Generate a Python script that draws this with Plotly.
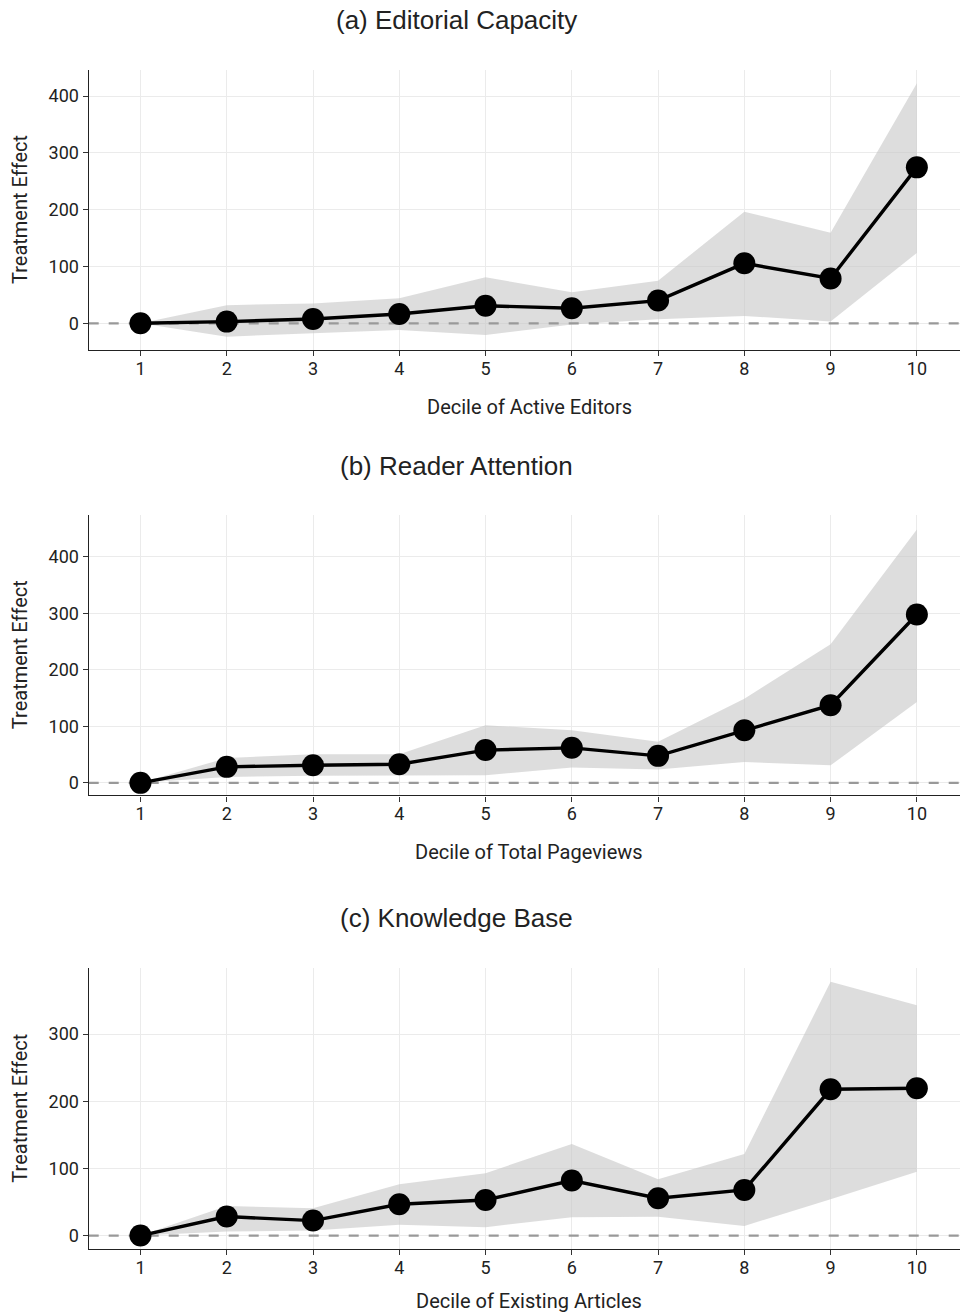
import plotly.graph_objects as go

# Deciles shared by all three panels
deciles = [1, 2, 3, 4, 5, 6, 7, 8, 9, 10]

# (a) Editorial Capacity
effect_a = [0, 3, 7.6, 16.4, 31, 26.4, 40, 105.6, 79, 274.6]
upper_a = [0, 32, 35, 44, 81, 54.6, 75, 196.5, 159.5, 422.5]
lower_a = [0, -23.5, -17.6, -11.8, -20.6, -2, 7, 13, 3, 124]

# (b) Reader Attention
effect_b = [0, 28.3, 31.3, 33, 58, 62, 47.8, 93, 137.5, 298]
upper_b = [0, 44, 50.8, 50.8, 102, 93, 72.6, 149, 245.5, 448.5]
lower_b = [0, 10.6, 12.4, 12.4, 13.6, 27, 23.7, 37, 31, 143]

# (c) Knowledge Base
effect_c = [0, 28.3, 22.3, 46.7, 53, 82, 55.6, 68, 217.8, 219.3]
upper_c = [0, 44, 40.8, 76.5, 92.8, 136.5, 84, 121.6, 378, 343]
lower_c = [0, 6, 7.4, 16, 12.5, 27.4, 28, 14.4, 54, 95]

panel_titles = ["(a) Editorial Capacity", "(b) Reader Attention", "(c) Knowledge Base"]
x_titles = ["Decile of Active Editors", "Decile of Total Pageviews", "Decile of Existing Articles"]
y_title = "Treatment Effect"

W, H = 960, 1315

panels = [
    dict(eff=effect_a, up=upper_a, lo=lower_a, top=70, bottom=350,
         yrange=[-47, 446], yticks=[0, 100, 200, 300, 400], title_y=20, xt_y=407),
    dict(eff=effect_b, up=upper_b, lo=lower_b, top=515, bottom=795.3,
         yrange=[-22, 474], yticks=[0, 100, 200, 300, 400], title_y=466, xt_y=852),
    dict(eff=effect_c, up=upper_c, lo=lower_c, top=968.3, bottom=1249,
         yrange=[-20, 398], yticks=[0, 100, 200, 300], title_y=918, xt_y=1301),
]

x_left = 88.7
fig = go.Figure()
annotations = []

tick_font = dict(family="Roboto, sans-serif", size=18, color="#222222")
lab_font = dict(family="Roboto, sans-serif", size=20, color="#222222")
title_font = dict(family="Liberation Sans, Arial, sans-serif", size=26, color="#222222")

for i, p in enumerate(panels):
    n = "" if i == 0 else str(i + 1)
    xa, ya = "x" + n, "y" + n
    # confidence band
    fig.add_trace(go.Scatter(x=deciles, y=p["lo"], xaxis=xa, yaxis=ya, mode="lines",
                             line=dict(width=0), hoverinfo="skip", showlegend=False))
    fig.add_trace(go.Scatter(x=deciles, y=p["up"], xaxis=xa, yaxis=ya, mode="lines",
                             line=dict(width=0), fill="tonexty",
                             fillcolor="rgba(200,200,200,0.62)", hoverinfo="skip",
                             showlegend=False))
    # zero reference line
    fig.add_trace(go.Scatter(x=[0.4, 10.5], y=[0, 0], xaxis=xa, yaxis=ya, mode="lines",
                             line=dict(color="#999999", width=2.2, dash="10px,10px"),
                             hoverinfo="skip", showlegend=False))
    # point estimates
    fig.add_trace(go.Scatter(x=deciles, y=p["eff"], xaxis=xa, yaxis=ya, mode="lines+markers",
                             line=dict(color="black", width=3.4),
                             marker=dict(color="black", size=22),
                             showlegend=False))

    dom = [1 - p["bottom"] / H, 1 - p["top"] / H]
    axis_common = dict(showline=True, linecolor="#222222", linewidth=1.4,
                       ticks="outside", ticklen=5, tickcolor="#333333", tickwidth=1.2,
                       showgrid=True, gridcolor="#EBEBEB", gridwidth=1,
                       zeroline=False, tickfont=tick_font, fixedrange=True)
    fig.layout["xaxis" + n] = dict(axis_common, domain=[x_left / W, 1.0], anchor=ya,
                                   range=[0.4, 10.5], tickmode="array",
                                   tickvals=deciles, ticktext=[str(d) for d in deciles],
                                   ticklabelstandoff=-3)
    fig.layout["yaxis" + n] = dict(axis_common, domain=dom, anchor=xa,
                                   range=p["yrange"], tickmode="array",
                                   tickvals=p["yticks"], ticktext=[str(t) for t in p["yticks"]])

    annotations.append(dict(text=panel_titles[i], x=456 / W, y=1 - p["title_y"] / H,
                            xref="paper", yref="paper", showarrow=False,
                            xanchor="center", yanchor="middle", font=title_font))
    annotations.append(dict(text=x_titles[i], x=529 / W, y=1 - p["xt_y"] / H,
                            xref="paper", yref="paper", showarrow=False,
                            xanchor="center", yanchor="middle", font=lab_font))
    annotations.append(dict(text=y_title, x=20 / W, y=1 - (p["top"] + p["bottom"]) / 2 / H,
                            xref="paper", yref="paper", showarrow=False, textangle=-90,
                            xanchor="center", yanchor="middle", font=lab_font))

fig.update_layout(width=W, height=H, margin=dict(l=0, r=0, t=0, b=0),
                  paper_bgcolor="white", plot_bgcolor="white",
                  annotations=annotations, showlegend=False)

fig.write_html("out.html")
